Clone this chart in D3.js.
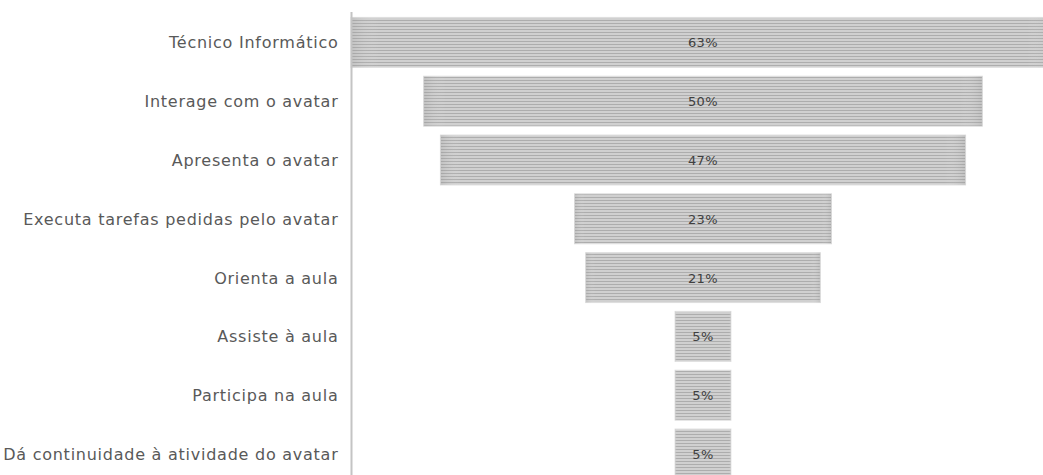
<!DOCTYPE html>
<html>
<head>
<meta charset="utf-8">
<script src="https://cdn.jsdelivr.net/npm/d3@7/dist/d3.min.js"></script>
<style>
  html, body { margin: 0; padding: 0; background: #fff; }
  svg { display: block; }
</style>
</head>
<body>
<svg id="chart" width="1043" height="475"></svg>
<script>
// Funnel of roles, share of responses (%)
const categories = [
  "Técnico Informático",
  "Interage com o avatar",
  "Apresenta o avatar",
  "Executa tarefas pedidas pelo avatar",
  "Orienta a aula",
  "Assiste à aula",
  "Participa na aula",
  "Dá continuidade à atividade do avatar"
];
const values = [63, 50, 47, 23, 21, 5, 5, 5];
const valueLabels = ["63%", "50%", "47%", "23%", "21%", "5%", "5%", "5%"];

const W = 1043, H = 475;
const axisX = 351;
const plotRight = 1055;        // widest bar spills past the right edge
const centerX = (axisX + plotRight) / 2;

const svg = d3.select("#chart");

// striped fill
const defs = svg.append("defs");
const pat = defs.append("pattern")
  .attr("id", "stripes")
  .attr("patternUnits", "userSpaceOnUse")
  .attr("width", 8).attr("height", 3);
pat.append("rect").attr("width", 8).attr("height", 3).attr("fill", "#d0d0d0");
pat.append("rect").attr("y", 2).attr("width", 8).attr("height", 1).attr("fill", "#adadad");

const edge = defs.append("linearGradient").attr("id", "edgeShade")
  .attr("x1", 0).attr("x2", 1).attr("y1", 0).attr("y2", 0);
edge.append("stop").attr("offset", "0%").attr("stop-color", "#888").attr("stop-opacity", 0.2);
edge.append("stop").attr("offset", "4%").attr("stop-color", "#fff").attr("stop-opacity", 0);
edge.append("stop").attr("offset", "96%").attr("stop-color", "#fff").attr("stop-opacity", 0);
edge.append("stop").attr("offset", "100%").attr("stop-color", "#888").attr("stop-opacity", 0.2);

const y = d3.scaleBand()
  .domain(categories)
  .range([13, 13 + 58.8 * categories.length])
  .paddingInner(0.15)
  .paddingOuter(0.075);

const w = d3.scaleLinear()
  .domain([0, d3.max(values)])
  .range([0, plotRight - axisX]);

const rows = categories.map((c, i) => ({ c, v: values[i], lab: valueLabels[i] }));

const g = svg.append("g");

g.selectAll("rect.bar")
  .data(rows)
  .join("rect")
  .attr("class", "bar")
  .attr("x", d => centerX - w(d.v) / 2)
  .attr("y", d => y(d.c))
  .attr("width", d => w(d.v))
  .attr("height", y.bandwidth())
  .attr("fill", "url(#stripes)")
  .attr("stroke", "#e0e0e0")
  .attr("stroke-width", 1);

g.selectAll("rect.shade")
  .data(rows)
  .join("rect")
  .attr("class", "shade")
  .attr("x", d => centerX - w(d.v) / 2)
  .attr("y", d => y(d.c))
  .attr("width", d => w(d.v))
  .attr("height", y.bandwidth())
  .attr("fill", "url(#edgeShade)");

// value labels
g.selectAll("text.val")
  .data(rows)
  .join("text")
  .attr("class", "val")
  .attr("x", centerX)
  .attr("y", d => y(d.c) + y.bandwidth() / 2)
  .attr("dy", "0.38em")
  .attr("text-anchor", "middle")
  .attr("font-family", "DejaVu Sans, Verdana, sans-serif")
  .attr("font-size", 13)
  .attr("letter-spacing", 0.4)
  .attr("fill", "#404040")
  .text(d => d.lab);

// category axis
const axis = d3.axisLeft(y).tickSize(0).tickPadding(13);
const ax = svg.append("g")
  .attr("transform", `translate(${axisX + 0.5},0)`)
  .call(axis);
ax.select(".domain")
  .attr("d", `M0,12V${H}`)
  .attr("stroke", "#c4c4c4")
  .attr("stroke-width", 2);
ax.selectAll(".tick text")
  .attr("font-family", "DejaVu Sans, Verdana, sans-serif")
  .attr("font-size", 16)
  .attr("letter-spacing", 0.75)
  .attr("dy", "0.38em")
  .attr("fill", "#595959");
</script>
</body>
</html>
